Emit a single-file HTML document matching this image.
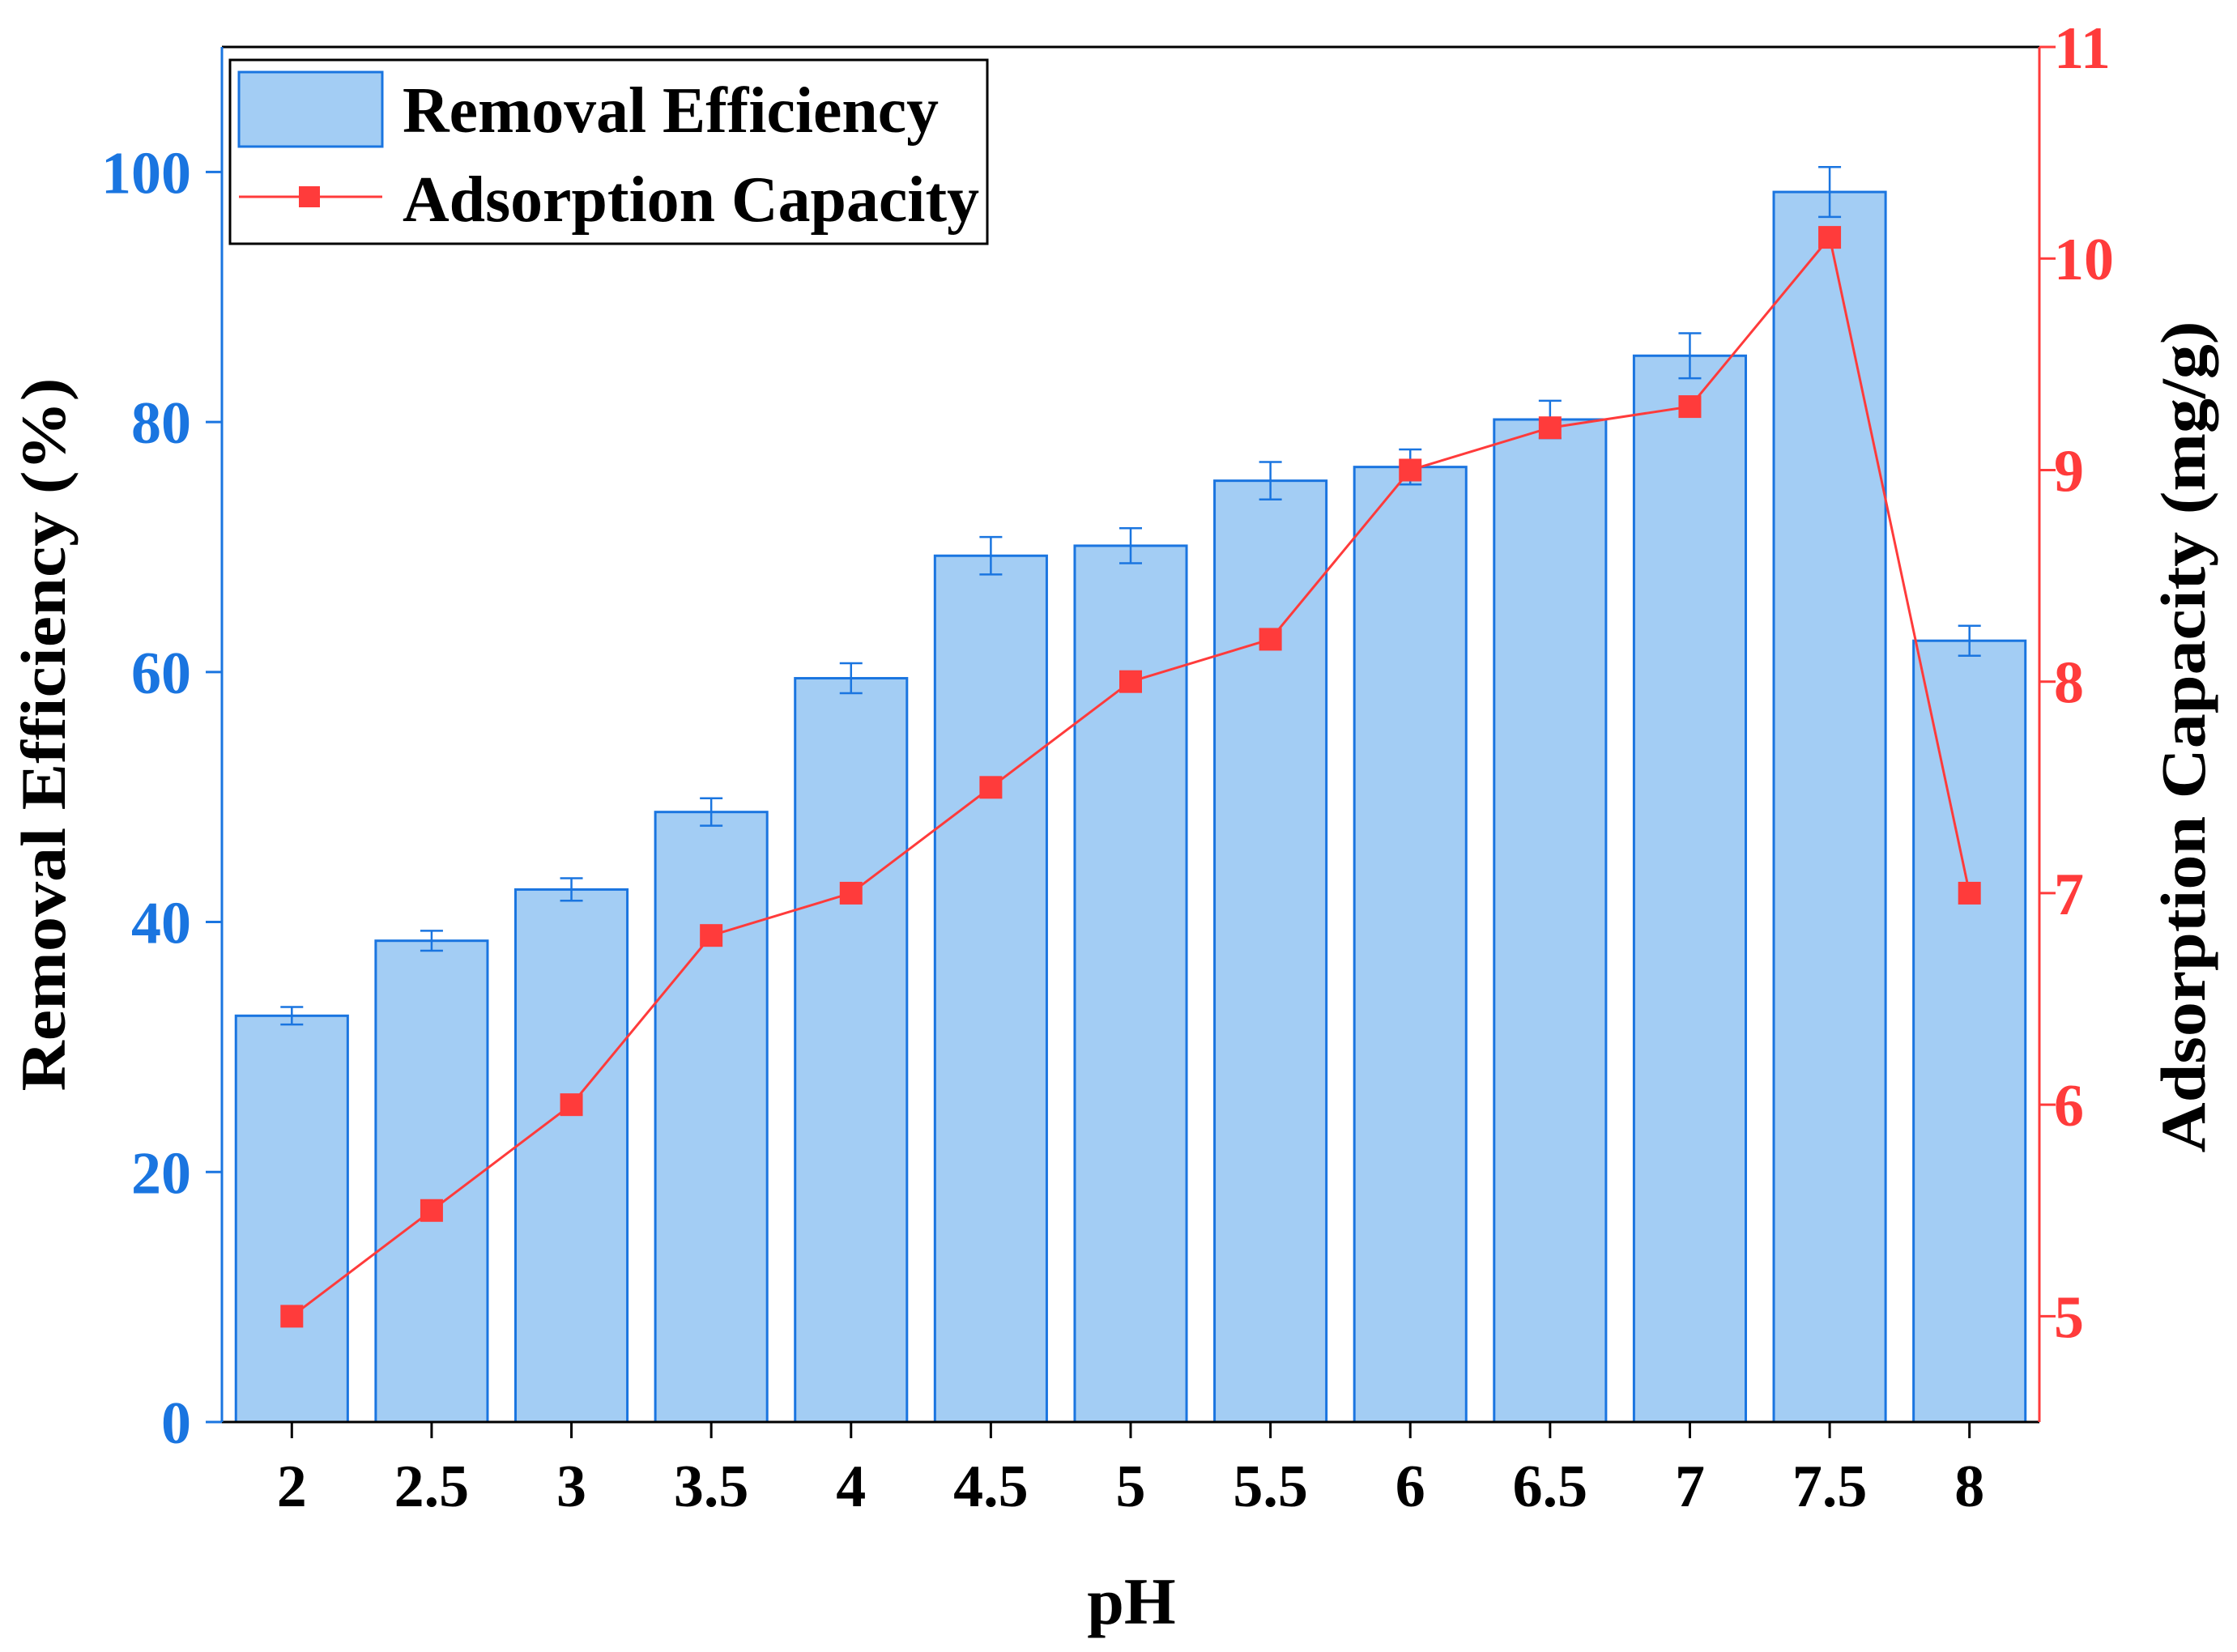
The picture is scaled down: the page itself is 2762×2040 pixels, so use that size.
<!DOCTYPE html>
<html><head><meta charset="utf-8"><style>
html,body{margin:0;padding:0;background:#fff;}
svg{display:block;}
text{font-family:"Liberation Serif",serif;font-weight:bold;}
</style></head><body>
<svg id="chart" width="2762" height="2040" viewBox="0 0 2762 2040" xmlns="http://www.w3.org/2000/svg"></svg>
<script>
const categories = ["2","2.5","3","3.5","4","4.5","5","5.5","6","6.5","7","7.5","8"];
const removalEfficiency = [32.5,38.5,42.6,48.8,59.5,69.3,70.1,75.3,76.4,80.2,85.3,98.4,62.5];
const removalError = [0.7,0.8,0.9,1.1,1.2,1.5,1.4,1.5,1.4,1.5,1.8,2.0,1.2];
const adsorptionCapacity = [5,5.5,6,6.8,7,7.5,8,8.2,9,9.2,9.3,10.1,7];
const leftTicks = [0,20,40,60,80,100];
const rightTicks = [5,6,7,8,9,10,11];

const svgEl = document.getElementById('chart');
const NS = 'http://www.w3.org/2000/svg';
const L = 274, R = 2518, T = 58, B = 1756;
const yL = v => B - (v - 0) / (110 - 0) * (B - T);
const yR = v => B - (v - 4.5) / (11 - 4.5) * (B - T);
const band = (R - L) / categories.length;
const xC = i => L + band * (i + 0.5);
const barW = band * 0.8;
function mk(tag, attrs) {
  const e = document.createElementNS(NS, tag);
  for (const k in attrs) e.setAttribute(k, attrs[k]);
  svgEl.appendChild(e);
  return e;
}
const BLUE = '#1a75e0', RED = '#ff3b3b';

removalEfficiency.forEach((v, i) => {
  const r = mk('rect', {x: xC(i) - barW / 2, y: yL(v), width: barW, height: B - yL(v), fill: '#a3cdf4', stroke: BLUE, 'stroke-width': 3});
  
  
  const e = removalError[i];
  const g = mk('path', {d: `M${xC(i)},${yL(v - e)}V${yL(v + e)}M${xC(i) - 14},${yL(v - e)}H${xC(i) + 14}M${xC(i) - 14},${yL(v + e)}H${xC(i) + 14}`, stroke: BLUE, 'stroke-width': 2.5, fill: 'none'});
  
  
});

const pts = adsorptionCapacity.map((v, i) => xC(i) + ',' + yR(v)).join(' ');
const pl = mk('polyline', {points: pts, fill: 'none', stroke: RED, 'stroke-width': 3});


adsorptionCapacity.forEach((v, i) => {
  const m = mk('rect', {x: xC(i) - 14, y: yR(v) - 14, width: 28, height: 28, fill: RED});
  
  
});

const topAxis = mk('line', {x1: L, y1: T, x2: R, y2: T, stroke: '#000', 'stroke-width': 3});


const botAxis = mk('line', {x1: L, y1: B, x2: R, y2: B, stroke: '#000', 'stroke-width': 3});


const leftAxis = mk('line', {x1: L, y1: T, x2: L, y2: B, stroke: BLUE, 'stroke-width': 3});


const rightAxis = mk('line', {x1: R, y1: T, x2: R, y2: B, stroke: RED, 'stroke-width': 3});



categories.forEach((c, i) => {
  const t = mk('line', {x1: xC(i), y1: B, x2: xC(i), y2: B + 20, stroke: '#000', 'stroke-width': 3});
  
  
  const tx = mk('text', {x: xC(i), y: 1860, 'text-anchor': 'middle', 'font-size': 74, fill: '#000'});
  tx.textContent = c;
  
  
});
leftTicks.forEach(v => {
  const t = mk('line', {x1: L - 20, y1: yL(v), x2: L, y2: yL(v), stroke: BLUE, 'stroke-width': 3});
  
  
  const tx = mk('text', {x: 236, y: yL(v) + 26, 'text-anchor': 'end', 'font-size': 74, fill: BLUE});
  tx.textContent = v;
  
  
});
rightTicks.forEach(v => {
  const t = mk('line', {x1: R, y1: yR(v), x2: R + 20, y2: yR(v), stroke: RED, 'stroke-width': 3});
  
  
  const tx = mk('text', {x: 2536, y: yR(v) + 26, 'text-anchor': 'start', 'font-size': 74, fill: RED});
  tx.textContent = v;
  
  
});

svgEl.insertAdjacentHTML('beforeend',
  '<text x="1397" y="2005" text-anchor="middle" font-size="82" fill="#000">pH</text>' +
  '<text transform="translate(80,907) rotate(-90)" text-anchor="middle" font-size="78" fill="#000" textLength="881" lengthAdjust="spacingAndGlyphs">Removal Efficiency (%)</text>' +
  '<text transform="translate(2722,910) rotate(-90)" text-anchor="middle" font-size="78" fill="#000" textLength="1027" lengthAdjust="spacingAndGlyphs">Adsorption Capacity (mg/g)</text>' +
  '<g>' +
  '<rect x="284" y="74" width="935" height="227" fill="#fff" stroke="#000" stroke-width="3"/>' +
  '<rect x="295" y="89" width="177" height="92" fill="#a3cdf4" stroke="#1a75e0" stroke-width="3"/>' +
  '<text x="497" y="163" font-size="80" fill="#000" textLength="662" lengthAdjust="spacingAndGlyphs">Removal Efficiency</text>' +
  '<line x1="295" y1="243" x2="472" y2="243" stroke="#ff3b3b" stroke-width="3"/>' +
  '<rect x="369" y="230" width="26" height="26" fill="#ff3b3b"/>' +
  '<text x="497" y="273" font-size="80" fill="#000" textLength="712" lengthAdjust="spacingAndGlyphs">Adsorption Capacity</text>' +
  '</g>');
</script>
</body></html>
